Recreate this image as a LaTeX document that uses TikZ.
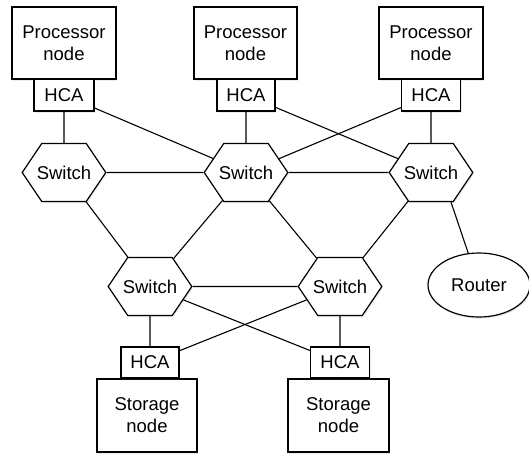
\documentclass[tikz,border=0pt]{standalone}
\usepackage{fontspec}
\setmainfont{Liberation Sans}
\usetikzlibrary{shapes.geometric,shapes.symbols,shadows}

\tikzset{
  base/.style={draw, fill=white, line width=1.2pt, inner sep=0pt,
    font=\fontsize{18.5}{22}\selectfont, align=center,
    drop shadow={opacity=0.15, shadow xshift=1.2pt, shadow yshift=-1.8pt}},
  hostbox/.style={base, rectangle, minimum width=104pt, minimum height=72pt},
  hcabox/.style={base, rectangle, minimum width=59pt, minimum height=32pt},
  switchbox/.style={base, signal, signal to=west and east,
    signal pointer angle=112, inner xsep=-5pt, minimum height=58pt},
  routerbox/.style={base, ellipse, minimum width=102pt, minimum height=64pt},
  link/.style={line width=1.1pt}
}

\begin{document}
\begin{tikzpicture}[x=1pt,y=-1pt]
\useasboundingbox (0,0) rectangle (529,453);

% processor nodes with their adapters
\node[hostbox] (p1) at (64,43) {Processor\\node};
\node[hostbox, minimum width=103pt] (p2) at (245.5,43) {Processor\\node};
\node[hostbox] (p3) at (431,43) {Processor\\node};
\node[hcabox, minimum width=60pt] (h1) at (64,95) {HCA};
\node[hcabox, minimum width=58pt] (h2) at (246,95) {HCA};
\node[hcabox] (h3) at (431,95) {HCA};

% switch fabric
\node[switchbox] (s1) at (64,172.5) {Switch};
\node[switchbox] (s2) at (246,172.5) {Switch};
\node[switchbox] (s3) at (431,172.5) {Switch};
\node[switchbox] (s4) at (150,286.5) {Switch};
\node[switchbox] (s5) at (340,286.5) {Switch};

\node[routerbox] (r) at (479,285) {Router};

% storage nodes with their adapters
\node[hostbox, minimum width=100pt, minimum height=73pt] (st1) at (147,415.5) {Storage\\node};
\node[hostbox, minimum width=101pt, minimum height=73pt] (st2) at (338.5,415.5) {Storage\\node};
\node[hcabox, minimum width=58pt, minimum height=31pt] (h4) at (150,362.5) {HCA};
\node[hcabox, minimum height=31pt] (h5) at (340,362.5) {HCA};

% links
\draw[link] (h1) -- (s1);
\draw[link] (h1) -- (s2);
\draw[link] (h2) -- (s2);
\draw[link] (h2) -- (s3);
\draw[link] (h3) -- (s2);
\draw[link] (h3) -- (s3);
\draw[link] (s1) -- (s2);
\draw[link] (s2) -- (s3);
\draw[link] (s1) -- (s4);
\draw[link] (s2) -- (s4);
\draw[link] (s2) -- (s5);
\draw[link] (s3) -- (s5);
\draw[link] ([xshift=20pt]s3.south) -- (r);
\draw[link] (s4) -- (s5);
\draw[link] (s4) -- (h4);
\draw[link] (s4) -- (h5);
\draw[link] (s5) -- (h4);
\draw[link] (s5) -- (h5);
\end{tikzpicture}
\end{document}
